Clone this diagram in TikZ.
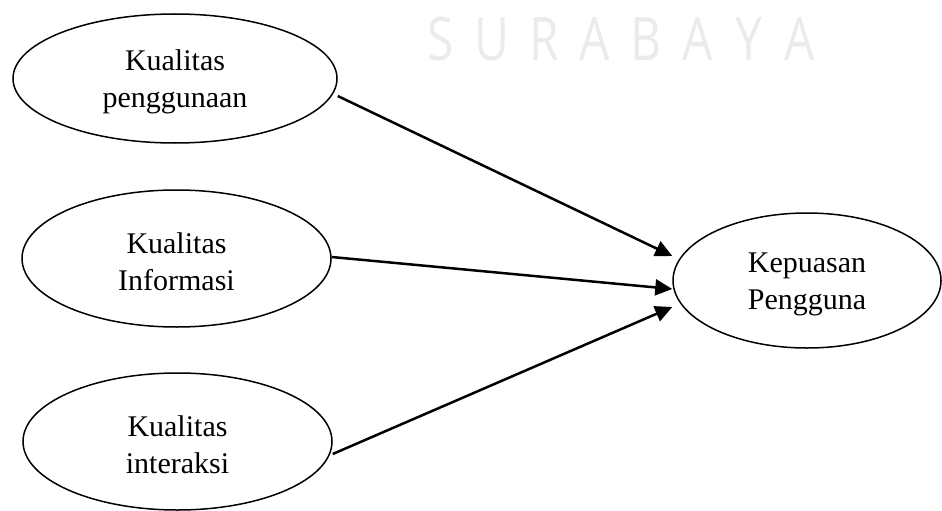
\documentclass[tikz,border=0pt]{standalone}
\usepackage{fontspec}
\setmainfont{Liberation Serif}
\newfontfamily\wmfont[FakeStretch=0.8]{Open Sans}
\usetikzlibrary{shapes.geometric,arrows.meta,calc}
\definecolor{wmgray}{HTML}{EBEBEB}
\tikzset{
  var/.style={draw=black, line width=1.5pt, ellipse, inner sep=0pt, align=center,
    font=\fontsize{30}{37}\selectfont},
  link/.style={line width=2.5pt, -{Triangle[length=17pt,width=16pt]}},
  wm/.style={text=wmgray, font=\wmfont\fontsize{60}{60}\selectfont, anchor=base, inner sep=0pt}
}
\begin{document}
\begin{tikzpicture}[x=1pt,y=-1pt]
\useasboundingbox (0,0) rectangle (942,511);
% watermark
\node[wm] (w1) at (441,60) {S};
\node[wm] (w2) at (492,60) {U};
\node[wm] (w3) at (544,60) {R};
\node[wm] (w4) at (595,60) {A};
\node[wm] (w5) at (646,60) {B};
\node[wm] (w6) at (698,60) {A};
\node[wm] (w7) at (749,60) {Y};
\node[wm] (w8) at (800,60) {A};
% ellipses
\node[var, minimum width=324pt, minimum height=129pt] (e1) at (175,78.5) {};
\node[var, minimum width=309pt, minimum height=137pt] (e2) at (176.5,258.5) {};
\node[var, minimum width=309pt, minimum height=137pt] (e3) at (177.5,441.5) {};
\node[var, minimum width=268pt, minimum height=135pt] (e4) at (807,280.5) {};
% texts
\node[var, draw=none] (t1) at ($(e1.center)+(0,3.5)$) {Kualitas\\penggunaan};
\node[var, draw=none] (t2) at ($(e2.center)+(0,3.5)$) {Kualitas\\Informasi};
\node[var, draw=none] (t3) at ($(e3.center)+(0,3.5)$) {Kualitas\\interaksi};
\node[var, draw=none] (t4) at ($(e4.center)+(0,3.5)$) {Kepuasan\\Pengguna};
% arrows
\draw[link] ($(e1.east)+(0,17.5)$) -- ($(e4.west)+(0,-24.5)$);
\draw[link] ($(e2.east)+(0,-1.5)$) -- ($(e4.west)+(0,8.5)$);
\draw[link] ($(e3.east)+(0,12.5)$) -- ($(e4.west)+(0,26.5)$);
\end{tikzpicture}
\end{document}
